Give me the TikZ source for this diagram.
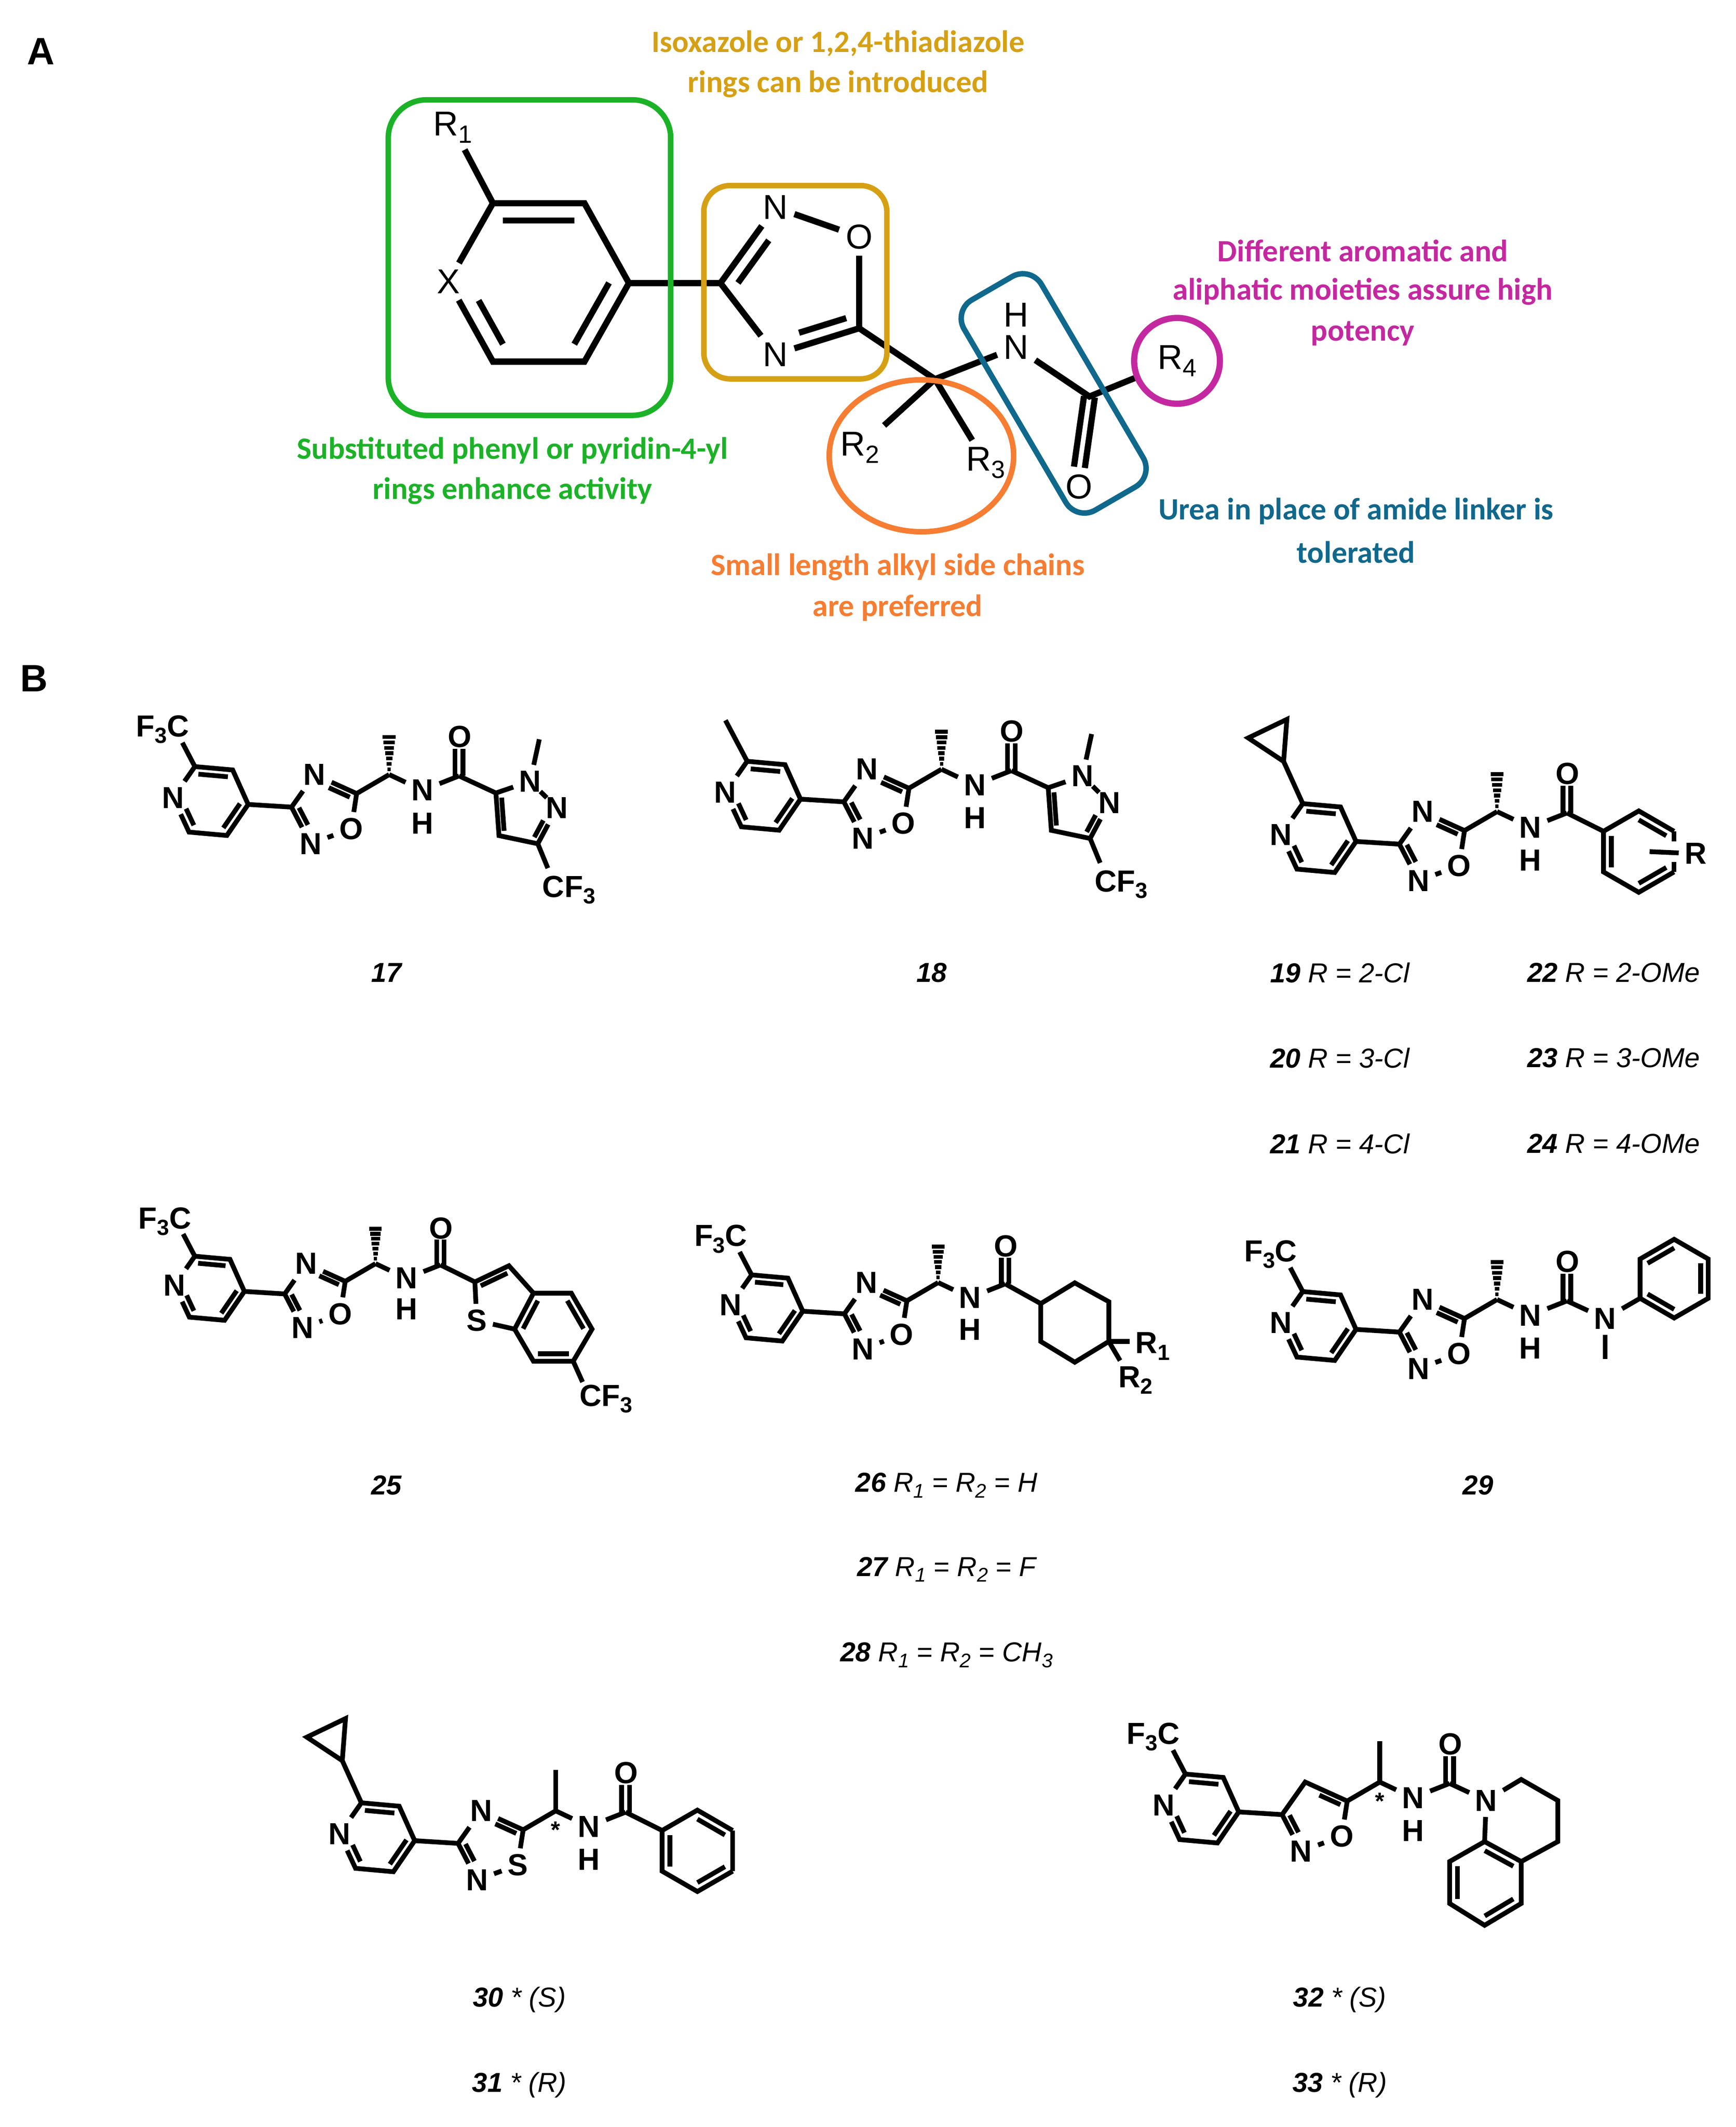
\documentclass[tikz,border=0pt]{standalone}
\usepackage{fontspec}
\setmainfont{Liberation Sans}
\newfontfamily\carl{Carlito}
\usetikzlibrary{calc}
\newcommand\sub[1]{\raisebox{-0.4ex}{\scalebox{0.72}{#1}}}
\newcommand\cn[1]{\textbf{\textit{#1}}}
\newcommand\inb[3]{\draw ($(#1)!.22!(#3)$) -- ($(#2)!.22!(#3)$);}
\newcommand\hashme{\foreach \i/\w in {1/1.2,2/1.8,3/2.4,4/3,5/3.6,6/4.2,7/4.8}{\draw[line width=1.6pt] ($(st)!\i/7.6!(me)$) +(-\w,0) -- +(\w,0);}}
\newcommand\plainme{\draw (st) -- (me);}
\newcommand\core[5]{%
 \coordinate (P) at (0,0);
 \coordinate (c5) at (-15.7,22.9);
 \coordinate (c6) at (-43.6,20.4);
 \node[atom] (npy) at (-55.4,-4.9) {N};
 \coordinate (c2) at (-39.3,-27.9);
 \coordinate (c3) at (-11.4,-25.4);
 \coordinate (pc) at (-27.5,-2.5);
 \draw (P) -- (c5) -- (c6) -- (npy) -- (c2) -- (c3) -- (P);
 \inb{c2}{c3}{pc}\inb{P}{c5}{pc}
 \coordinate (nq) at ($(c6)!.62!(npy)$); \inb{c6}{nq}{pc}
 \coordinate (ox3) at (32,2);
 \node[#1] (ox4) at (49,-22) {#2};
 \coordinate (ox5) at (80,-8);
 \node[atom] (ox1) at (76,18) {#3};
 \node[atom] (ox2) at (46,29) {N};
 \coordinate (oc) at (57,4);
 \draw (P) -- (ox3) -- (ox4) -- (ox5) -- (ox1) -- (ox2) -- (ox3);
 \coordinate (q2) at ($(ox3)!.6!(ox2)$); \inb{ox3}{q2}{oc}
 \coordinate (q4) at ($(ox5)!.64!(ox4)$); \inb{ox5}{q4}{oc}
 \coordinate (st) at (104,-22); \coordinate (me) at (104,-52);
 #4
 \draw (ox5) -- (st);
 \node[font=\bfseries\fontsize{10}{10}\selectfont, inner sep=0pt] (star) at (104,-8) {#5};
 \node[atom] (nh) at (128.6,-10.4) {N};
 \node[atom] (hh) at (128.6,14) {H};
 \coordinate (co) at (155.5,-21);
 \node[atom] (oo) at (156,-50) {O};
 \draw (st) -- (nh) -- (co);
 \draw (152.6,-21) -- (152.6,-41); \draw (158.4,-21) -- (158.4,-41);
}
\newcommand\fthreec{\coordinate (fb) at (-48.5,-45.5); \node[atom] (f3c) at (-63,-55.4) {F\sub{3}C}; \draw (c2) -- (fb);}
\newcommand\cyclop{\coordinate (cp1) at (-53.4,-59); \coordinate (cp2) at (-79.5,-76.3); \coordinate (cp3) at (-51,-90); \draw (c2) -- (cp1); \draw (cp1) -- (cp2) -- (cp3) -- cycle;}
\newcommand\methylpy{\coordinate (mp) at (-55.3,-58.1); \draw (c2) -- (mp);}
\newcommand\pyrazole{%
 \begin{scope}[shift={(co)}]
 \coordinate (pz5) at (27.2,12.6); \node[atom] (pz1) at (52.5,4) {N}; \coordinate (pzm) at (59.2,-27);
 \node[atom] (pz2) at (72.2,23.6) {N}; \coordinate (pz3) at (58.1,50); \coordinate (pz4) at (29.5,44);
 \coordinate (pzc) at (46.5,28); \coordinate (pzb) at (65.5,68); \node[atom] (pzcf) at (81,84) {CF\sub{3}};
 \draw (co) -- (pz5) -- (pz1) -- (pz2) -- (pz3) -- (pz4) -- (pz5);
 \draw (pz1) -- (pzm); \draw (pz3) -- (pzb);
 \inb{pz5}{pz4}{pzc}
 \coordinate (pzq) at ($(pz3)!.6!(pz2)$); \inb{pz3}{pzq}{pzc}
 \end{scope}}
\newcommand\benzring{%
 \coordinate (bc) at (53,28.5);
 \coordinate (b1) at (27,13.5); \coordinate (b2) at (53,-1.5); \coordinate (b3) at (79,13.5);
 \coordinate (b4) at (79,43.5); \coordinate (b5) at (53,58.5); \coordinate (b6) at (27,43.5);
 \draw (co) -- (b1) -- (b2) -- (b3); \draw (b4) -- (b5) -- (b6) -- (b1);
 \inb{b2}{b3}{bc}\inb{b6}{b1}{bc}\inb{b4}{b5}{bc}}
\begin{document}
\begin{tikzpicture}[x=0.02cm,y=-0.02cm,line width=2pt,
 atom/.style={font=\bfseries\fontsize{12.8}{14}\selectfont, inner sep=1.5pt},
 aatom/.style={font=\fontsize{14.5}{16}\selectfont, inner sep=1.5pt},
 lab/.style={font=\fontsize{11.5}{13}\selectfont\itshape},
 ann/.style={font=\carl\bfseries\fontsize{13}{15}\selectfont},
 panel/.style={font=\bfseries\fontsize{16}{18}\selectfont}]
\definecolor{cgold}{RGB}{214,160,20}
\definecolor{cgreen}{RGB}{28,178,40}
\definecolor{cmag}{RGB}{196,40,160}
\definecolor{cblue}{RGB}{16,104,140}
\definecolor{corange}{RGB}{246,125,50}
\fill[white] (0,0) rectangle (1280,1568);
\useasboundingbox (0,0) rectangle (1280,1568);
\node[panel] (pa) at (30,38) {A};
\node[panel] (pb) at (25,500) {B};
% ---------- Panel A
\begin{scope}[line width=2.6pt]
\coordinate (a2) at (363.5,149.8); \coordinate (a3) at (431,149.8); \coordinate (a4) at (463.8,208.7);
\coordinate (a5) at (431,266.6); \coordinate (a6) at (363.5,266.6); \node[aatom] (ax) at (330.7,207.6) {X};
\coordinate (ac) at (397,208);
\node[aatom] (ar1) at (334,94) {R\sub{1}};
\draw (a2) -- (a3) -- (a4) -- (a5) -- (a6) -- (ax) -- (a2);
\draw (ar1) -- (a2);
\inb{a2}{a3}{ac}\inb{a4}{a5}{ac}
\coordinate (axq) at ($(a6)!.7!(ax)$); \inb{a6}{axq}{ac}
\coordinate (b3a) at (531.3,208.7);
\node[aatom] (bn2) at (571.7,152.9) {N};
\node[aatom] (bo1) at (633.6,174.5) {O};
\coordinate (bc5) at (633.6,242);
\node[aatom] (bn4) at (571.7,261.2) {N};
\coordinate (bcc) at (590,208);
\draw (a4) -- (b3a) -- (bn2) -- (bo1) -- (bc5) -- (bn4) -- (b3a);
\coordinate (bq1) at ($(b3a)!.72!(bn2)$); \inb{b3a}{bq1}{bcc}
\coordinate (bq2) at ($(bc5)!.72!(bn4)$); \inb{bc5}{bq2}{bcc}
\coordinate (cq) at (689.5,279.5);
\node[aatom] (ar2) at (634,330) {R\sub{2}};
\node[aatom] (ar3) at (727,341) {R\sub{3}};
\node[aatom] (an) at (749.4,256) {N};
\node[aatom] (ah) at (749.4,232) {H};
\coordinate (acc) at (803.4,292.3);
\node[aatom] (ao) at (795.6,358.8) {O};
\node[aatom,draw=cmag,circle,inner sep=0.5pt,minimum size=36] (ar4) at (868,266) {R\sub{4}};
\draw (bc5) -- (cq) -- (ar2); \draw (cq) -- (ar3); \draw (cq) -- (an) -- (acc) -- (ar4);
\draw (799.4,292) -- (792,344); \draw (807.4,293) -- (800,345);
\end{scope}
\draw[cgreen,line width=2.3pt,rounded corners=16pt] (286.3,73.6) rectangle (494.6,306.2);
\draw[cgold,line width=2.3pt,rounded corners=11pt] (519,136.8) rectangle (654,279.3);
\draw[corange,line width=2.3pt] (679.5,336) ellipse [x radius=68, y radius=56];
\draw[cblue,line width=2.3pt,rounded corners=9pt] (731.5,212.5) -- (760,196) -- (851,351) -- (794,384) -- (703,229) -- cycle;
\node[ann,text=cgold] (t1) at (618,32) {Isoxazole or 1,2,4-thiadiazole};
\node[ann,text=cgold] (t2) at (618,62) {rings can be introduced};
\node[ann,text=cmag] (t3) at (1005,185) {Different aromatic and};
\node[ann,text=cmag] (t4) at (1005,215) {aliphatic moieties assure high};
\node[ann,text=cmag] (t5) at (1005,246) {potency};
\node[ann,text=cgreen] (t6) at (378,332) {Substituted phenyl or pyridin-4-yl};
\node[ann,text=cgreen] (t7) at (378,362) {rings enhance activity};
\node[ann,text=cblue] (t8) at (1000,377) {Urea in place of amide linker is};
\node[ann,text=cblue] (t9) at (1000,407) {tolerated};
\node[ann,text=corange] (t10) at (662,418) {Small length alkyl side chains};
\node[ann,text=corange] (t11) at (662,448) {are preferred};
% ---------- 17
\begin{scope}[shift={(183,593)}]
\core{atom}{N}{O}{\hashme}{}
\fthreec
\end{scope}
\pyrazole
% ---------- 18
\begin{scope}[shift={(590.3,589.1)}]
\core{atom}{N}{O}{\hashme}{}
\methylpy
\end{scope}
\pyrazole
% ---------- 19
\begin{scope}[shift={(1000,620.3)}]
\core{atom}{N}{O}{\hashme}{}
\cyclop
\end{scope}
\begin{scope}[shift={(co)}]
\benzring
\draw (b3) -- (79,21); \draw (79,36) -- (b4);
\node[atom] (rr) at (95,30) {R};
\draw (61,28.5) -- (rr);
\end{scope}
% ---------- 25
\begin{scope}[shift={(180.2,952)},scale=0.93]
\core{atom}{N}{O}{\hashme}{}
\fthreec
\end{scope}
\coordinate (t2c) at (350.2,945); \coordinate (t3c) at (375.3,933.1); \coordinate (t3a) at (393.4,953.3);
\coordinate (t7a) at (379.5,979.8); \node[atom] (ts) at (351.6,973.5) {S};
\coordinate (t4c) at (421.3,953.3); \coordinate (t5c) at (436.6,979.8); \coordinate (t6c) at (422.7,1003.5);
\coordinate (t7c) at (393.4,1003.5); \coordinate (tbc) at (408,978.5); \coordinate (ttc) at (370,958);
\coordinate (tcb) at (429.6,1018.8); \node[atom] (tcf) at (447,1031.3) {CF\sub{3}};
\draw (co) -- (t2c) -- (t3c) -- (t3a) -- (t7a) -- (ts) -- (t2c);
\draw (t3a) -- (t4c) -- (t5c) -- (t6c) -- (t7c) -- (t7a);
\draw (t6c) -- (tcb);
\inb{t2c}{t3c}{ttc}\inb{t3a}{t7a}{tbc}\inb{t4c}{t5c}{tbc}\inb{t6c}{t7c}{tbc}
% ---------- 26
\begin{scope}[shift={(592,966.6)},scale=0.96]
\core{atom}{N}{O}{\hashme}{}
\fthreec
\end{scope}
\coordinate (h1) at (767.5,961); \coordinate (h2) at (792.6,945.7); \coordinate (h3) at (817.7,959.6);
\coordinate (h4) at (817.7,988.9); \coordinate (h5) at (792.6,1004.2); \coordinate (h6) at (767.5,988.9);
\node[atom] (hr1) at (850,992.4) {R\sub{1}};
\node[atom] (hr2) at (837.5,1017.5) {R\sub{2}};
\draw (co) -- (h1) -- (h2) -- (h3) -- (h4) -- (h5) -- (h6) -- (h1);
\draw (h4) -- (hr1.west |- h4); \draw (h4) -- (826,1003);
% ---------- 29
\begin{scope}[shift={(1000,980)}]
\core{atom}{N}{O}{\hashme}{}
\fthreec
\end{scope}
\node[atom] (un) at (1183.7,972) {N};
\coordinate (um) at (1183.7,1001.7);
\coordinate (p1) at (1209.5,957.1); \coordinate (p2) at (1209.5,928.1); \coordinate (p3) at (1234.6,913.6);
\coordinate (p4) at (1259.7,928.1); \coordinate (p5) at (1259.7,957.1); \coordinate (p6) at (1234.6,971.6);
\coordinate (pcn) at (1234.6,942.6);
\draw (co) -- (un) -- (p1); \draw (un) -- (um);
\draw (p1) -- (p2) -- (p3) -- (p4) -- (p5) -- (p6) -- (p1);
\inb{p2}{p3}{pcn}\inb{p4}{p5}{pcn}\inb{p6}{p1}{pcn}
% ---------- 30
\begin{scope}[shift={(305.8,1356.9)}]
\core{atom}{N}{S}{\plainme}{*}
\cyclop
\end{scope}
\begin{scope}[shift={(co)}]
\benzring
\draw (b3) -- (b4);
\end{scope}
% ---------- 32
\begin{scope}[shift={(913.5,1335.7)}]
\core{coordinate}{}{O}{\plainme}{*}
\fthreec
\end{scope}
\node[atom] (qn) at (1096,1327.3) {N};
\coordinate (q2c) at (1121.8,1311.8); \coordinate (q3c) at (1148.8,1327.3); \coordinate (q4c) at (1148.8,1357.6);
\coordinate (q4a) at (1121.8,1372.3); \coordinate (q8a) at (1094.8,1357.6);
\coordinate (q8c) at (1069,1372.3); \coordinate (q7c) at (1069,1403.2); \coordinate (q6c) at (1094.8,1419.3);
\coordinate (q5c) at (1121.8,1403.2); \coordinate (qbc) at (1095.4,1388);
\draw (co) -- (qn) -- (q2c) -- (q3c) -- (q4c) -- (q4a);
\draw (qn) -- (q8a) -- (q8c) -- (q7c) -- (q6c) -- (q5c) -- (q4a) -- (q8a);
\inb{q8a}{q4a}{qbc}\inb{q8c}{q7c}{qbc}\inb{q6c}{q5c}{qbc}
% ---------- labels
\node[lab] (l17) at (285,717) {\cn{17}};
\node[lab] (l18) at (687,717) {\cn{18}};
\node[lab] (l19) at (988,717) {\cn{19} R = 2-Cl};
\node[lab] (l20) at (988,780) {\cn{20} R = 3-Cl};
\node[lab] (l21) at (988,843) {\cn{21} R = 4-Cl};
\node[lab] (l22) at (1190,717) {\cn{22} R = 2-OMe};
\node[lab] (l23) at (1190,780) {\cn{23} R = 3-OMe};
\node[lab] (l24) at (1190,843) {\cn{24} R = 4-OMe};
\node[lab] (l25) at (285,1095) {\cn{25}};
\node[lab] (l26) at (698,1095) {\cn{26} R\sub{1} = R\sub{2} = H};
\node[lab] (l27) at (698,1157) {\cn{27} R\sub{1} = R\sub{2} = F};
\node[lab] (l28) at (698,1220) {\cn{28} R\sub{1} = R\sub{2} = CH\sub{3}};
\node[lab] (l29) at (1090,1095) {\cn{29}};
\node[lab] (l30) at (383,1474) {\cn{30} * (S)};
\node[lab] (l31) at (383,1537) {\cn{31} * (R)};
\node[lab] (l32) at (988,1474) {\cn{32} * (S)};
\node[lab] (l33) at (988,1537) {\cn{33} * (R)};
\end{tikzpicture}
\end{document}
